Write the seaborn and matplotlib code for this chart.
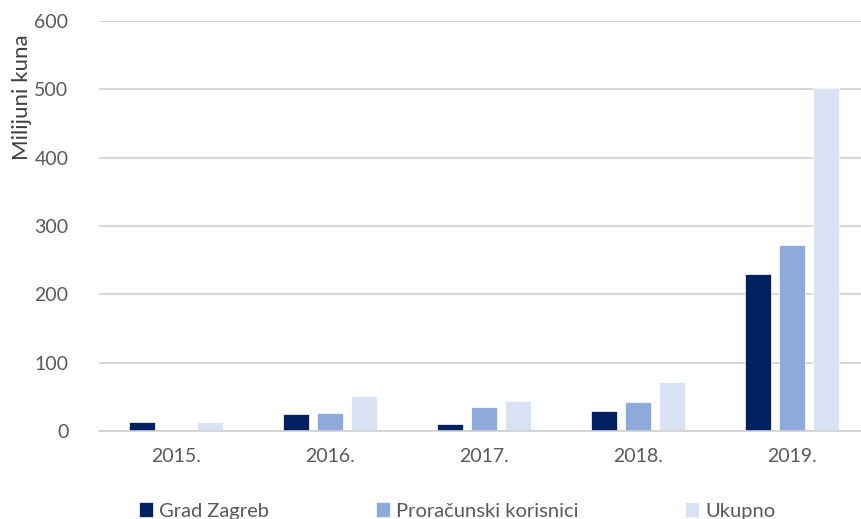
import matplotlib
matplotlib.use("Agg")
import matplotlib.pyplot as plt
import seaborn as sns
import pandas as pd

years = ["2015.", "2016.", "2017.", "2018.", "2019."]
series = ["Grad Zagreb", "Proračunski korisnici", "Ukupno"]
grad_zagreb = [13, 25, 10, 29, 230]
proracunski = [0.5, 26, 35, 42, 272]
ukupno = [13, 51, 44, 71, 502]
colors = ["#002060", "#8eaadb", "#d9e2f3"]

rows = []
for name, vals in zip(series, [grad_zagreb, proracunski, ukupno]):
    for y, v in zip(years, vals):
        rows.append({"Godina": y, "Serija": name, "Vrijednost": v})
df = pd.DataFrame(rows)

sns.set_theme(style="white")
plt.rcParams["font.family"] = ["Lato", "DejaVu Sans"]

fig = plt.figure(figsize=(8.62, 5.19), dpi=100)
ax = fig.add_axes([99 / 862, 1 - 431 / 519, 770 / 862, 410 / 519])

sns.barplot(data=df, x="Godina", y="Vrijednost", hue="Serija", order=years,
            hue_order=series, palette=colors, saturation=1, width=0.66,
            gap=0.23, edgecolor="white", linewidth=0.5, ax=ax, legend=True)

ax.set_ylim(0, 600)
ax.set_yticks(range(0, 601, 100))
ax.set_xlim(-0.5, 4.5)
ax.yaxis.grid(True, color="#d0d0d0", linewidth=1.2)
ax.set_axisbelow(True)
for s in ["top", "right", "left"]:
    ax.spines[s].set_visible(False)
ax.spines["bottom"].set_color("#d0d0d0")
ax.spines["bottom"].set_linewidth(1.2)
ax.tick_params(axis="both", length=0, labelsize=14, colors="#595959")
ax.tick_params(axis="y", pad=22)
ax.tick_params(axis="x", pad=12)
ax.set_xlabel("")
ax.set_ylabel("")
fig.text(22 / 862, 1 - 97 / 519, "Milijuni kuna", rotation=90, ha="center",
         va="center", fontsize=16, color="#404040")

leg = ax.legend(loc="center", bbox_to_anchor=(457 / 862, 1 - 511 / 519),
                bbox_transform=fig.transFigure, ncol=3, frameon=False,
                fontsize=14.5, handlelength=0.7, handleheight=0.7,
                handletextpad=0.3, columnspacing=5.3)
for t in leg.get_texts():
    t.set_color("#595959")

fig.savefig("out.png", dpi=100)
